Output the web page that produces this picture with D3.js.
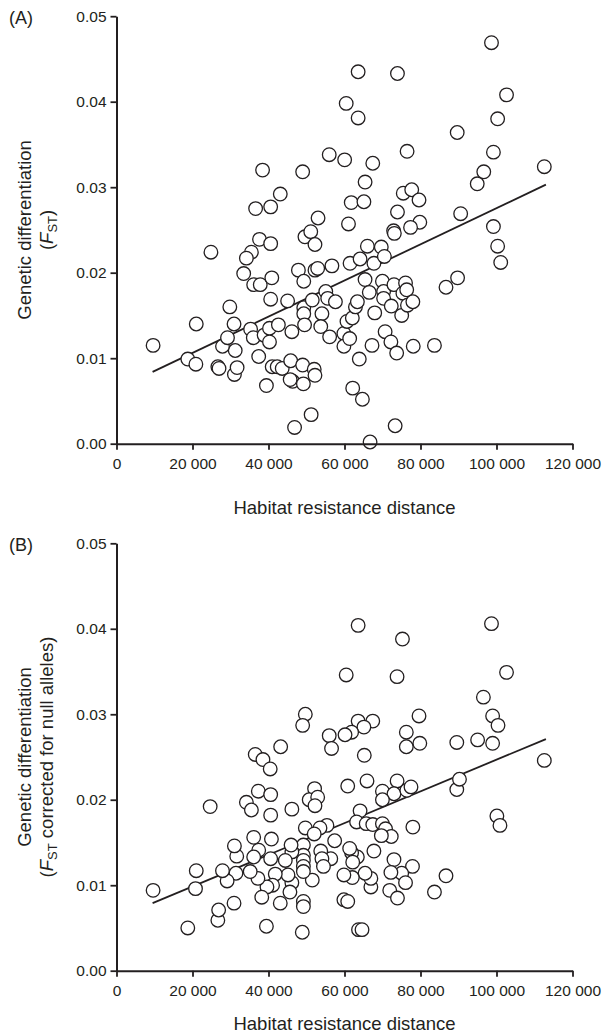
<!DOCTYPE html>
<html>
<head>
<meta charset="utf-8">
<script src="https://cdn.jsdelivr.net/npm/d3@7/dist/d3.min.js"></script>
<style>
	body { margin: 0; background: #fff; }
	svg text { font-family: "Liberation Sans", Arial, sans-serif; fill: #231f20; }
</style>
</head>
<body>
<svg id="chart" width="606" height="1035"></svg>
<script>
// panel A: habitat resistance distance vs FST
var distA = [98680, 63590, 73935, 102640, 60450, 63590, 100300, 89660, 76470, 99190, 55980, 60040, 67440, 112580,
	38440, 48990, 96650, 94930, 65420, 43100, 75460, 77690, 79610, 36610, 40570, 61770, 65110, 73940, 90570, 53040,
	61050, 79820, 77380, 99190, 72920, 73120, 49590, 51120, 37630, 40570, 52230, 66020, 69680, 100300, 24850, 35500,
	34180, 33470, 36100, 37830, 40870, 40570, 29820, 20990, 30930, 9630, 18760, 20890, 26670, 26980, 31030, 31740,
	31240, 27890, 29210, 35290, 36000, 37420, 38840, 40260, 40260, 42600, 39450, 40970, 42290, 43610, 45030, 46150,
	45840, 46350, 45700, 48990, 49180, 52030, 52230, 46860, 51220, 47870, 49280, 52230, 52940, 56690, 49280, 49280,
	49490, 51520, 54060, 53750, 55070, 55580, 57610, 56090, 59840, 59840, 61360, 60650, 62060, 61460, 62880, 63390,
	64100, 65410, 66520, 67740, 70490, 67240, 67950, 69980, 70290, 70290, 70690, 72210, 72310, 73020, 73730, 75360,
	75050, 76060, 76370, 76570, 77990, 78090, 73330, 66730, 62160, 64710, 63890, 83670, 86710, 89760, 101110];
var fstA = [0.0469, 0.0435, 0.0433, 0.0408, 0.0398, 0.0381, 0.0380, 0.0364, 0.0342, 0.0341, 0.0338, 0.0332, 0.0328, 0.0324,
	0.0320, 0.0318, 0.0318, 0.0304, 0.0306, 0.0292, 0.0293, 0.0297, 0.0285, 0.0275, 0.0277, 0.0282, 0.0283, 0.0271, 0.0269, 0.0264,
	0.0257, 0.0259, 0.0253, 0.0254, 0.0249, 0.0246, 0.0242, 0.0248, 0.0239, 0.0234, 0.0233, 0.0231, 0.0230, 0.0231, 0.0224, 0.0224,
	0.0217, 0.0199, 0.0186, 0.0186, 0.0194, 0.0169, 0.0160, 0.0140, 0.0140, 0.0115, 0.0099, 0.0093, 0.0090, 0.0088, 0.0081, 0.0089,
	0.0109, 0.0114, 0.0124, 0.0134, 0.0124, 0.0102, 0.0127, 0.0135, 0.0119, 0.0139, 0.0068, 0.0090, 0.0090, 0.0088, 0.0167, 0.0131,
	0.0097, 0.0073, 0.0075, 0.0092, 0.0070, 0.0087, 0.0080, 0.0019, 0.0034, 0.0203, 0.0190, 0.0203, 0.0205, 0.0208, 0.0159, 0.0152,
	0.0139, 0.0168, 0.0152, 0.0137, 0.0178, 0.0170, 0.0166, 0.0125, 0.0129, 0.0114, 0.0123, 0.0143, 0.0147, 0.0211, 0.0160, 0.0166,
	0.0216, 0.0192, 0.0177, 0.0211, 0.0219, 0.0115, 0.0153, 0.0190, 0.0178, 0.0170, 0.0131, 0.0119, 0.0161, 0.0186, 0.0106, 0.0176,
	0.0150, 0.0188, 0.0180, 0.0162, 0.0166, 0.0114, 0.0021, 0.0002, 0.0065, 0.0052, 0.0099, 0.0115, 0.0183, 0.0194, 0.0212];

// panel B: FST corrected for null alleles
var distB = [63590, 98680, 75250, 60450, 73830, 102640, 96550, 49690, 48990, 63590, 67440, 65110, 61870, 60140, 55980,
	56590, 65210, 79610, 98980, 100400, 76270, 76270, 79820, 89550, 95030, 98980, 112580, 43200, 36510, 38540, 40450,
	24650, 37320, 40570, 34180, 35500, 40570, 46150, 52130, 50710, 52940, 52230, 60850, 65920, 73840, 69980, 73020,
	76400, 77500, 89550, 90260, 100100, 100910, 69980, 64100, 63180, 65710, 67440, 69980, 70800, 72310, 69700, 77990,
	77890, 75050, 76060, 73020, 72210, 71900, 73940, 66940, 66940, 67740, 65410, 63380, 61870, 61360, 62160, 62060,
	59840, 59840, 60850, 63690, 64610, 83670, 86710, 57410, 56390, 53750, 54060, 54460, 55380, 53550, 49690, 52030,
	51520, 49180, 49180, 49180, 49180, 49180, 49180, 49180, 48890, 46150, 45940, 44420, 46150, 45640, 45130, 43100,
	41780, 41070, 39600, 40570, 40770, 39450, 38230, 37220, 37420, 36100, 36100, 35180, 31640, 31030, 31440, 29110,
	27890, 30930, 26670, 26880, 18760, 20990, 20790, 9630];
var fstB = [0.0404, 0.0406, 0.0388, 0.0346, 0.0344, 0.0349, 0.0320, 0.0300, 0.0287, 0.0292, 0.0292, 0.0285, 0.0279, 0.0276, 0.0275,
	0.0260, 0.0252, 0.0298, 0.0298, 0.0287, 0.0279, 0.0262, 0.0266, 0.0267, 0.0270, 0.0266, 0.0246, 0.0262, 0.0253, 0.0247, 0.0236,
	0.0192, 0.0210, 0.0206, 0.0197, 0.0188, 0.0182, 0.0189, 0.0213, 0.0200, 0.0203, 0.0193, 0.0216, 0.0222, 0.0222, 0.0210, 0.0207,
	0.0211, 0.0215, 0.0212, 0.0224, 0.0181, 0.0170, 0.0200, 0.0187, 0.0174, 0.0172, 0.0171, 0.0172, 0.0166, 0.0157, 0.0158, 0.0168,
	0.0122, 0.0114, 0.0103, 0.0130, 0.0115, 0.0094, 0.0085, 0.0098, 0.0108, 0.0140, 0.0114, 0.0133, 0.0138, 0.0143, 0.0127, 0.0109,
	0.0112, 0.0083, 0.0081, 0.0048, 0.0048, 0.0092, 0.0111, 0.0152, 0.0131, 0.0140, 0.0131, 0.0122, 0.0170, 0.0167, 0.0167, 0.0160,
	0.0106, 0.0147, 0.0135, 0.0129, 0.0122, 0.0116, 0.0081, 0.0075, 0.0045, 0.0139, 0.0147, 0.0129, 0.0103, 0.0092, 0.0112, 0.0079,
	0.0113, 0.0100, 0.0098, 0.0131, 0.0154, 0.0052, 0.0086, 0.0108, 0.0141, 0.0156, 0.0133, 0.0116, 0.0134, 0.0146, 0.0114, 0.0105,
	0.0117, 0.0079, 0.0059, 0.0071, 0.0050, 0.0117, 0.0096, 0.0094];

// fitted lines, read at both ends
var fitX = [9500, 113000];
var fitA = [0.0084, 0.0303];
var fitB = [0.0079, 0.0271];

var xTicks = [0, 20000, 40000, 60000, 80000, 100000, 120000];
var yTicks = [0, 0.01, 0.02, 0.03, 0.04, 0.05];

var ink = "#231f20";
var svg = d3.select("#chart");
var locale = d3.formatLocale({ decimal: ".", thousands: " ", grouping: [3], currency: ["", ""] });
var fmtX = locale.format(",");
var fmtY = d3.format(".2f");

function drawPanel(letter, xs, ys, fit, top, bottom, titleGap, yTitle2) {
	var x = d3.scaleLinear().domain([0, 120000]).range([116.5, 572.5]);
	var y = d3.scaleLinear().domain([0, 0.05]).range([bottom, top]);
	var g = svg.append("g");

	// fit line under the circles
	g.append("line")
		.attr("x1", x(fitX[0])).attr("y1", y(fit[0]))
		.attr("x2", x(fitX[1])).attr("y2", y(fit[1]))
		.attr("stroke", ink).attr("stroke-width", 1.8);

	var pts = xs.map(function(d, i) { return [d, ys[i]]; });
	g.selectAll(".pt").data(pts).enter().append("circle")
		.attr("class", "pt")
		.attr("cx", function(d) { return x(d[0]); })
		.attr("cy", function(d) { return y(d[1]); })
		.attr("r", 6.8)
		.attr("fill", "#fff")
		.attr("stroke", ink)
		.attr("stroke-width", 1.3);

	var xAxis = g.append("g").attr("transform", "translate(0," + bottom + ")")
		.call(d3.axisBottom(x).tickValues(xTicks).tickFormat(fmtX).tickSize(6).tickSizeOuter(0));
	var yAxis = g.append("g").attr("transform", "translate(116.5,0)")
		.call(d3.axisLeft(y).tickValues(yTicks).tickFormat(fmtY).tickSize(6).tickSizeOuter(0));

	[xAxis, yAxis].forEach(function(a) {
		a.select(".domain").attr("stroke", ink).attr("stroke-width", 2);
		a.selectAll(".tick line").attr("stroke", ink).attr("stroke-width", 1.8);
		a.selectAll(".tick text").attr("fill", ink).style("font-size", "15.5px")
			.style("font-family", "'Liberation Sans', Arial, sans-serif");
	});
	xAxis.selectAll(".tick text").attr("y", 14);
	yAxis.selectAll(".tick text").attr("x", -10);

	g.append("text").attr("x", 9).attr("y", top + 8).style("font-size", "18px").text("(" + letter + ")");

	g.append("text")
		.attr("x", 344.5).attr("y", bottom + titleGap)
		.attr("text-anchor", "middle").style("font-size", "18.5px")
		.text("Habitat resistance distance");

	var mid = (top + bottom) / 2;
	g.append("text")
		.attr("transform", "translate(31," + mid + ") rotate(-90)")
		.attr("text-anchor", "middle").style("font-size", "18.5px")
		.text("Genetic differentiation");

	var t2 = g.append("text")
		.attr("transform", "translate(53," + mid + ") rotate(-90)")
		.attr("text-anchor", "middle").style("font-size", "18.5px");
	t2.append("tspan").text("(");
	t2.append("tspan").style("font-style", "italic").text("F");
	t2.append("tspan").attr("dy", 4).style("font-size", "13px").text("ST");
	t2.append("tspan").attr("dy", -4).text(yTitle2 + ")");
}

drawPanel("A", distA, fstA, fitA, 16.2, 443.7, 70, "");
drawPanel("B", distB, fstB, fitB, 543.3, 970.7, 59, " corrected for null alleles");
</script>
</body>
</html>
